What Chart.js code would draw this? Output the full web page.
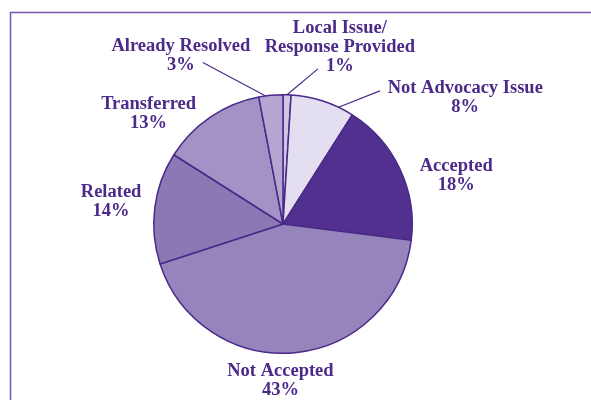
<!DOCTYPE html>
<html>
<head>
<meta charset="utf-8">
<script src="https://cdn.jsdelivr.net/npm/chart.js@4/dist/chart.umd.min.js"></script>
<style>
  html, body { margin: 0; padding: 0; background: #fff; }
  #wrap { width: 591px; height: 400px; }
</style>
</head>
<body>
<div id="wrap"><canvas id="pie" width="591" height="400"></canvas></div>
<script>
// data, clockwise from 12 o'clock
var categories = ['Local Issue/\nResponse Provided', 'Not Advocacy Issue', 'Accepted', 'Not Accepted', 'Related', 'Transferred', 'Already Resolved'];
var percents = [1, 8, 18, 43, 14, 13, 3];
var sliceColors = ['#cfc5e4', '#e4dff0', '#52308f', '#9685bc', '#8b79b6', '#a292c6', '#b3a6d1'];

// label placement, in units of the pie radius from its centre
var labelSpots = [[0.44, -1.37], [1.41, -0.98], [1.34, -0.37], [-0.02, 1.21], [-1.33, -0.17], [-1.04, -0.85], [-0.79, -1.30]];
// where a leader line starts (null = no leader), and a nudge of its end along the rim (radians)
var leaderFrom = [[0.27, -1.2], [0.75, -1.03], null, null, null, null, [-0.62, -1.25]];
var leaderNudge = [0, 0.13, 0, 0, 0, 0, -0.04];

var textColor = '#4b2a8a';

var labelPlugin = {
  id: 'pieLabels',
  beforeDraw: function(chart) {
    var ctx = chart.ctx;
    ctx.save();
    ctx.strokeStyle = '#7358ab';
    ctx.lineWidth = 1.5;
    ctx.beginPath();
    ctx.moveTo(10.5, 400);
    ctx.lineTo(10.5, 12.5);
    ctx.lineTo(591, 12.5);
    ctx.stroke();
    ctx.restore();
  },
  afterDraw: function(chart) {
    var ctx = chart.ctx;
    var arcs = chart.getDatasetMeta(0).data;
    ctx.save();
    ctx.fillStyle = textColor;
    ctx.strokeStyle = textColor;
    ctx.lineWidth = 1.2;
    ctx.font = 'bold 18.5px "Liberation Serif", serif';
    ctx.textAlign = 'center';
    ctx.textBaseline = 'middle';
    arcs.forEach(function(arc, i) {
      var r = arc.outerRadius;
      var cx = arc.x, cy = arc.y;
      var mid = (arc.startAngle + arc.endAngle) / 2 + leaderNudge[i];
      if (leaderFrom[i]) {
        ctx.beginPath();
        ctx.moveTo(cx + leaderFrom[i][0] * r, cy + leaderFrom[i][1] * r);
        ctx.lineTo(cx + Math.cos(mid) * r, cy + Math.sin(mid) * r);
        ctx.stroke();
      }
      var lines = categories[i].split('\n');
      lines.push(percents[i] + '%');
      var lx = cx + labelSpots[i][0] * r;
      var ly = cy + labelSpots[i][1] * r;
      var lh = 19;
      var top = ly - (lines.length - 1) * lh / 2;
      lines.forEach(function(t, k) {
        ctx.fillText(t, lx, top + k * lh);
      });
    });
    ctx.restore();
  }
};

var ctx = document.getElementById('pie');
var pieChart = new Chart(ctx, {
  type: 'pie',
  data: {
    labels: categories,
    datasets: [{
      data: percents,
      backgroundColor: sliceColors,
      borderColor: '#4a2a88',
      borderWidth: 1.5
    }]
  },
  options: {
    responsive: false,
    animation: false,
    layout: { padding: { left: 153, right: 178, top: 94, bottom: 46 } },
    plugins: {
      legend: { display: false },
      tooltip: { enabled: false }
    }
  },
  plugins: [labelPlugin]
});
</script>
</body>
</html>
